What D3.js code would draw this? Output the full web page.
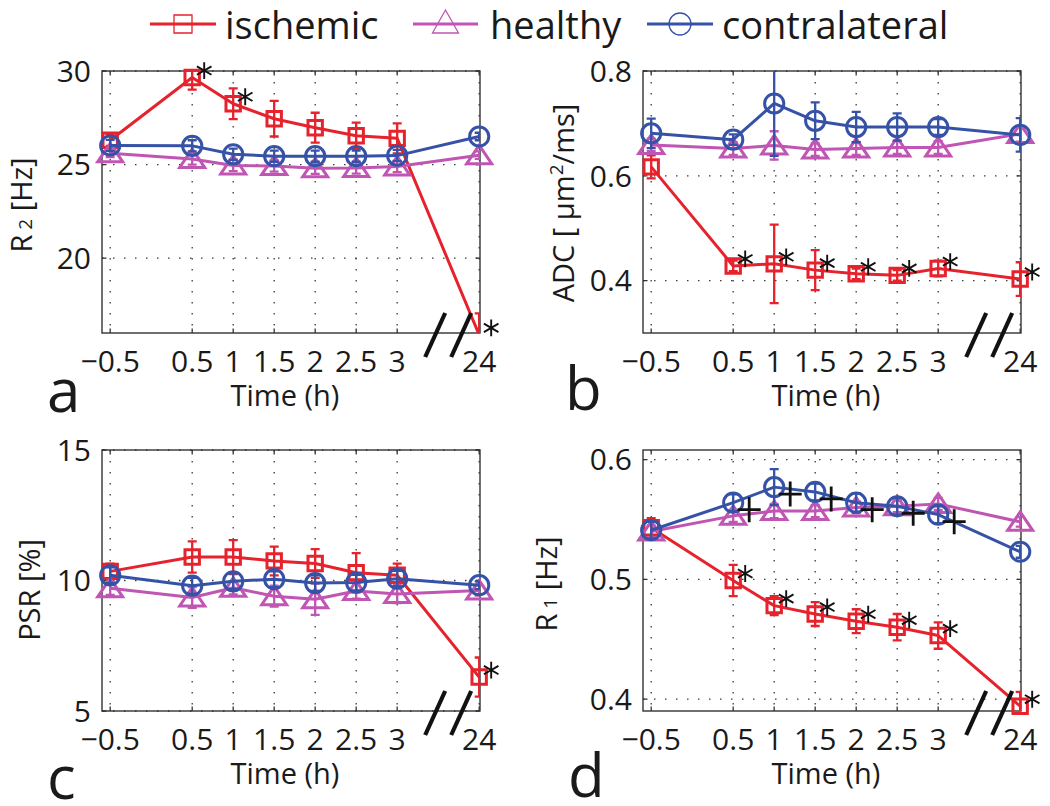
<!DOCTYPE html>
<html><head><meta charset="utf-8">
<script src="https://cdn.jsdelivr.net/npm/d3@7"></script>
<style>body{margin:0;background:#fff}svg{display:block}</style>
</head><body><svg id="c" width="1050" height="806"></svg>
<script>
// ---------- DATA ----------
const times = [-0.5, 0.5, 1, 1.5, 2, 2.5, 3, 24];
const tickLabels = ["\u22120.5", "0.5", "1", "1.5", "2", "2.5", "3", "24"];
const seriesNames = ["ischemic", "healthy", "contralateral"];

// a: R2 [Hz]
const r2Ischemic = [26.3, 29.65, 28.25, 27.45, 26.97, 26.54, 26.4, 15.9];
const r2IschemicErr = [0.3, 0.65, 0.82, 0.95, 0.8, 0.7, 0.8, 1.15];
const r2Healthy = [25.6, 25.3, 24.95, 24.92, 24.8, 24.82, 24.9, 25.5];
const r2HealthyErr = [0.2, 0.3, 0.3, 0.3, 0.3, 0.3, 0.3, 0.2];
const r2Contra = [26.02, 26.0, 25.55, 25.45, 25.45, 25.45, 25.48, 26.5];
const r2ContraErr = [0.3, 0.3, 0.3, 0.3, 0.3, 0.3, 0.3, 0.2];
const r2Yticks = [20, 25, 30];

// b: ADC [um^2/ms]
const adcIschemic = [0.617, 0.428, 0.432, 0.42, 0.413, 0.41, 0.423, 0.403];
const adcIschemicErr = [0.022, 0.01, 0.075, 0.038, 0.01, 0.01, 0.015, 0.032];
const adcHealthy = [0.659, 0.652, 0.658, 0.65, 0.652, 0.654, 0.654, 0.68];
const adcHealthyErr = [0.012, 0.012, 0.027, 0.012, 0.012, 0.012, 0.012, 0.015];
const adcContra = [0.681, 0.669, 0.738, 0.705, 0.693, 0.693, 0.693, 0.678];
const adcContraErr = [0.028, 0.01, 0.1, 0.035, 0.029, 0.026, 0.015, 0.032];
const adcYticks = [0.4, 0.6, 0.8];

// c: PSR [%]
const psrIschemic = [10.35, 10.9, 10.9, 10.75, 10.65, 10.3, 10.2, 6.3];
const psrIschemicErr = [0.3, 0.6, 0.65, 0.55, 0.55, 0.75, 0.45, 0.75];
const psrHealthy = [9.7, 9.35, 9.72, 9.4, 9.28, 9.6, 9.48, 9.62];
const psrHealthyErr = [0.25, 0.4, 0.25, 0.4, 0.6, 0.3, 0.35, 0.2];
const psrContra = [10.2, 9.8, 9.97, 10.05, 9.9, 9.92, 10.07, 9.82];
const psrContraErr = [0.3, 0.3, 0.3, 0.3, 0.3, 0.3, 0.3, 0.15];
const psrYticks = [5, 10, 15];

// d: R1 [Hz]
const r1Ischemic = [0.543, 0.499, 0.478, 0.471, 0.465, 0.46, 0.453, 0.394];
const r1IschemicErr = [0.008, 0.013, 0.008, 0.01, 0.01, 0.011, 0.011, 0.012];
const r1Healthy = [0.54, 0.553, 0.557, 0.557, 0.56, 0.561, 0.563, 0.548];
const r1HealthyErr = [0.005, 0.005, 0.006, 0.005, 0.005, 0.005, 0.005, 0.004];
const r1Contra = [0.541, 0.564, 0.577, 0.573, 0.564, 0.561, 0.554, 0.523];
const r1ContraErr = [0.007, 0.007, 0.015, 0.007, 0.008, 0.007, 0.007, 0.005];
const r1Yticks = [0.4, 0.5, 0.6];

// significance markers (indices into times)
const r2Stars = [1, 2, 7];
const adcStars = [1, 2, 3, 4, 5, 6, 7];
const psrStars = [7];
const r1Stars = [1, 2, 3, 4, 5, 6, 7];
const r1Plus = [1, 2, 3, 4, 5, 6];

// ---------- LAYOUT ----------
const FONT = "'Open Sans','Noto Sans',sans-serif";
const TXT = "#1a1a1a";
const colors = { ischemic: "#e6222c", healthy: "#c055b3", contralateral: "#3552a6" };

const panels = [
  { letter: "a", box: [102, 480, 71, 333], ydom: [16, 30], yticks: r2Yticks, fmt: d3.format("d"),
    data: [[r2Ischemic, r2IschemicErr], [r2Healthy, r2HealthyErr], [r2Contra, r2ContraErr]],
    stars: r2Stars, plus: [], ylab: { parts: [["R", 0], [" 2", 0, 19], [" [Hz]", 0]], x: 32, y: 205 }, letterPos: [47, 412] },
  { letter: "b", box: [643, 1021, 71, 333], ydom: [0.3, 0.8], yticks: adcYticks, fmt: d3.format(".1f"),
    data: [[adcIschemic, adcIschemicErr], [adcHealthy, adcHealthyErr], [adcContra, adcContraErr]],
    stars: adcStars, plus: [], ylab: { parts: [["ADC [ \u00b5m", 0], ["2", -11, 19], ["/ms]", 0]], x: 574, y: 203 }, letterPos: [565, 410] },
  { letter: "c", box: [102, 480, 450, 711], ydom: [5, 15], yticks: psrYticks, fmt: d3.format("d"),
    data: [[psrIschemic, psrIschemicErr], [psrHealthy, psrHealthyErr], [psrContra, psrContraErr]],
    stars: psrStars, plus: [], ylab: { parts: [["PSR [%]", 0]], x: 40, y: 590 }, letterPos: [47, 799] },
  { letter: "d", box: [643, 1021, 450, 711], ydom: [0.39, 0.608], yticks: r1Yticks, fmt: d3.format(".1f"),
    data: [[r1Ischemic, r1IschemicErr], [r1Healthy, r1HealthyErr], [r1Contra, r1ContraErr]],
    stars: r1Stars, plus: r1Plus, ylab: { parts: [["R", 0], [" 1", 0, 19], [" [Hz]", 0]], x: 557, y: 584 }, letterPos: [568, 797] }
];

const svg = d3.select("#c");
const defs = svg.append("defs");

function markerPath(type, big) {
  if (type === "square") { const h = big ? 7.2 : 9; return `M${-h},${-h}H${h}V${h}H${-h}Z`; }
  if (type === "triangle") { return big ? "M0,-10L12.5,8.5L-12.5,8.5Z" : "M0,-14L13,9L-13,9Z"; }
  const r = big ? 9.6 : 11;
  return `M${r},0A${r},${r} 0 1,1 ${-r},0A${r},${r} 0 1,1 ${r},0Z`;
}
const markerTypes = ["square", "triangle", "circle"];

panels.forEach((p, pi) => {
  const [x0, x1, y0, y1] = p.box;
  const k = (x1 - x0) / 4.61;
  const x = d3.scaleLinear().domain([-0.6, 3, 24, 24.21]).range([x0, x0 + 3.6 * k, x0 + 4.6 * k, x1]);
  const y = d3.scaleLinear().domain(p.ydom).range([y1, y0]);
  const clipId = "clip" + pi;
  defs.append("clipPath").attr("id", clipId).append("rect")
    .attr("x", x0).attr("y", y0).attr("width", x1 - x0).attr("height", y1 - y0);

  const g = svg.append("g");
  // grid
  g.selectAll(".vg").data(times).join("line")
    .attr("x1", d => x(d)).attr("x2", d => x(d)).attr("y1", y0).attr("y2", y1)
    .attr("stroke", "#3a3a3a").attr("stroke-width", 1.3).attr("stroke-dasharray", "1.5 9.5");
  g.selectAll(".hg").data(p.yticks).join("line")
    .attr("y1", d => y(d)).attr("y2", d => y(d)).attr("x1", x0).attr("x2", x1)
    .attr("stroke", "#3a3a3a").attr("stroke-width", 1.3).attr("stroke-dasharray", "1.5 9.5");
  // frame
  g.append("rect").attr("x", x0).attr("y", y0).attr("width", x1 - x0).attr("height", y1 - y0)
    .attr("fill", "none").attr("stroke", "#333").attr("stroke-width", 1.4);
  // inward ticks
  const tk = 4.5;
  g.selectAll(".xt").data(times).join("path")
    .attr("d", d => `M${x(d)},${y1}v${-tk}M${x(d)},${y0}v${tk}`)
    .attr("stroke", "#333").attr("stroke-width", 1.3);
  g.selectAll(".yt").data(p.yticks).join("path")
    .attr("d", d => `M${x0},${y(d)}h${tk}M${x1},${y(d)}h${-tk}`)
    .attr("stroke", "#333").attr("stroke-width", 1.3);

  // tick labels
  g.selectAll(".xl").data(times).join("text")
    .attr("x", d => x(d)).attr("y", y1 + 39).attr("text-anchor", "middle")
    .attr("font-family", FONT).attr("font-size", 30).attr("fill", TXT)
    .text((d, i) => tickLabels[i]);
  g.selectAll(".yl").data(p.yticks).join("text")
    .attr("x", x0 - 11).attr("y", d => y(d)).attr("dy", "0.36em").attr("text-anchor", "end")
    .attr("font-family", FONT).attr("font-size", 30).attr("fill", TXT)
    .text(d => p.fmt(d));

  // axis titles
  g.append("text").attr("x", (x0 + x1) / 2 - 6).attr("y", y1 + 73).attr("text-anchor", "middle")
    .attr("font-family", FONT).attr("font-size", 29).attr("fill", TXT).text("Time (h)");
  const yt = g.append("text").attr("transform", `translate(${p.ylab.x},${p.ylab.y}) rotate(-90)`)
    .attr("text-anchor", "middle").attr("font-family", FONT).attr("font-size", 29).attr("fill", TXT);
  p.ylab.parts.forEach(([t, dy, fs], i) => {
    const ts = yt.append("tspan").text(t);
    if (fs) ts.attr("font-size", fs);
    const prev = i > 0 ? p.ylab.parts[i - 1] : null;
    if (dy) ts.attr("dy", dy);
    else if (prev && prev[1]) ts.attr("dy", -prev[1]);
  });

  // series
  p.data.forEach(([vals, errs], si) => {
    const col = colors[seriesNames[si]];
    const pts = times.map((t, i) => ({ t, v: vals[i], e: errs[i] }));
    const sg = g.append("g");
    const cg = sg.append("g").attr("clip-path", `url(#${clipId})`);
    cg.append("path").datum(pts)
      .attr("d", d3.line().x(d => x(d.t)).y(d => y(d.v)))
      .attr("fill", "none").attr("stroke", col).attr("stroke-width", 3).attr("stroke-linejoin", "round");
    cg.selectAll(".eb").data(pts).join("path")
      .attr("d", d => {
        const xx = x(d.t), ya = y(d.v + d.e), yb = y(d.v - d.e), c = 4.5;
        return `M${xx},${ya}V${yb}M${xx - c},${ya}H${xx + c}M${xx - c},${yb}H${xx + c}`;
      })
      .attr("fill", "none").attr("stroke", col).attr("stroke-width", 2.3);
    sg.selectAll(".mk").data(pts.filter(d => d.v >= p.ydom[0] && d.v <= p.ydom[1])).join("path")
      .attr("transform", d => `translate(${x(d.t)},${y(d.v)})`)
      .attr("d", markerPath(markerTypes[si], true))
      .attr("fill", "none").attr("stroke", col).attr("stroke-width", 3);
  });

  // asterisks (from ischemic series)
  const isc = p.data[0][0];
  const star = d3.symbol().type(d3.symbolAsterisk).size(200);
  g.selectAll(".st").data(p.stars).join("path")
    .attr("transform", i => `translate(${x(times[i]) + 12},${y(isc[i]) - 7})`)
    .attr("d", star).attr("fill", "none").attr("stroke", "#111").attr("stroke-width", 1.9);
  // plus signs (from contralateral series)
  const con = p.data[2][0];
  g.selectAll(".pl").data(p.plus).join("path")
    .attr("d", i => {
      const cx = x(times[i]) + 16, cy = y(con[i]) + 7;
      return `M${cx - 11.5},${cy}H${cx + 11.5}M${cx},${cy - 12.5}V${cy + 12.5}`;
    })
    .attr("stroke", "#111").attr("stroke-width", 2.8).attr("fill", "none");

  // axis break marks
  const bx = [x(3) + 38, x(3) + 64];
  g.selectAll(".br").data(bx).join("line")
    .attr("x1", d => d - 10).attr("y1", y1 + 24).attr("x2", d => d + 10).attr("y2", y1 - 20)
    .attr("stroke", "#111").attr("stroke-width", 4.2);

  // panel letter
  g.append("text").attr("x", p.letterPos[0]).attr("y", p.letterPos[1])
    .attr("font-family", FONT).attr("font-size", 60).attr("fill", TXT).text(p.letter);
});

// ---------- LEGEND ----------
const legendItems = [
  { name: "ischemic", lx: [150, 216], tx: 225 },
  { name: "healthy", lx: [413, 478], tx: 490 },
  { name: "contralateral", lx: [647, 713], tx: 722 }
];
const lg = svg.append("g");
legendItems.forEach((it, i) => {
  const col = colors[it.name];
  const ly = 24;
  lg.append("line").attr("x1", it.lx[0]).attr("x2", it.lx[1]).attr("y1", ly).attr("y2", ly)
    .attr("stroke", col).attr("stroke-width", 3.2);
  lg.append("path").attr("transform", `translate(${(it.lx[0] + it.lx[1]) / 2},${ly})`)
    .attr("d", markerPath(markerTypes[i], false)).attr("fill", "none").attr("stroke", col).attr("stroke-width", 1.3);
  lg.append("text").attr("x", it.tx).attr("y", 39).attr("font-family", FONT).attr("font-size", 38)
    .attr("fill", TXT).text(it.name);
});
</script></body></html>
